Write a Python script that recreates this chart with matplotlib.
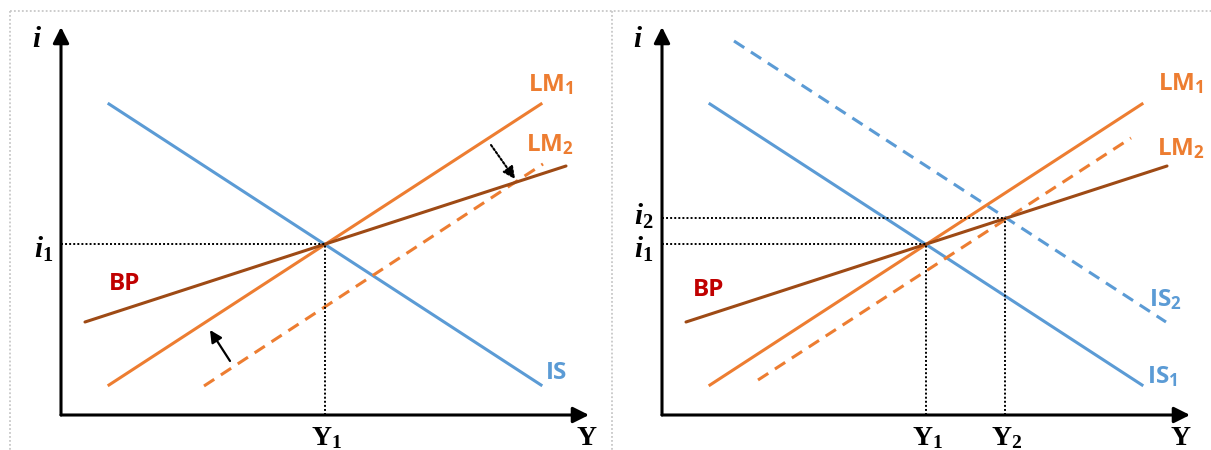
import matplotlib
matplotlib.use("Agg")
import matplotlib.pyplot as plt

# mathtext fonts: rm -> sans labels (LM, IS), bf -> serif Y labels, it -> serif italic i
plt.rcParams['mathtext.fontset'] = 'custom'
plt.rcParams['mathtext.rm'] = 'Open Sans:bold'
plt.rcParams['mathtext.bf'] = 'Liberation Serif:bold'
plt.rcParams['mathtext.it'] = 'Liberation Serif:bold:italic'

BLUE = '#5B9BD5'
ORANGE = '#ED7D31'
BROWN = '#9E4A15'
RED = '#C00000'

# curve end points (same scale for both panels, origin at the axes corner)
is1_x = [4.8, 48.0]
is1_y = [31.1, 3.0]
lm1_x = [4.8, 48.0]
lm1_y = [3.0, 31.1]
bp_x = [2.4, 50.5]
bp_y = [9.3, 24.9]

# left panel: LM shifts right
lm2_left_x = [14.3, 48.2]
lm2_left_y = [2.9, 25.1]
eq1 = (26.35, 17.1)

# right panel: IS and LM both shift
is2_x = [7.2, 50.4]
is2_y = [37.4, 9.3]
lm2_right_x = [9.6, 46.9]
lm2_right_y = [3.5, 27.7]
eq2 = (34.3, 19.7)

LW = 2.2
LBL = 17.5
fig = plt.figure(figsize=(12.11, 4.5), dpi=100)

# dotted table borders behind the panels
bg = fig.add_axes([0, 0, 1, 1])
bg.set_xlim(0, 1211)
bg.set_ylim(450, 0)
bg.axis('off')
border = dict(color='#C8C8C8', lw=1.3, ls=(0, (1, 1.2)))
bg.plot([10, 1211], [11, 11], **border)
bg.plot([10, 10], [11, 450], **border)
bg.plot([612, 612], [11, 450], **border)


def make_axes(x0):
    ax = fig.add_axes([x0 / 1211, 35 / 450, 540 / 1211, 400 / 450])
    ax.set_xlim(0, 54)
    ax.set_ylim(0, 40)
    ax.axis('off')
    arrow = dict(arrowstyle='-|>', lw=2.2, color='black', mutation_scale=24,
                 shrinkA=0, shrinkB=0)
    ax.annotate('', xy=(52.8, 0), xytext=(0, 0), arrowprops=arrow)
    ax.annotate('', xy=(0, 38.8), xytext=(0, 0), arrowprops=arrow)
    ax.text(-2.4, 37.6, r'$\mathit{i}$', fontsize=21, ha='center', va='center')
    return ax


def guides(ax, pt, sub):
    dot = dict(color='black', lw=1.4, ls=(0, (1, 1.1)))
    ax.plot([0, pt[0]], [pt[1], pt[1]], **dot)
    ax.plot([pt[0], pt[0]], [0, pt[1]], **dot)
    ax.text(pt[0] + 0.2, -2.2, r'$\mathbf{Y_%s}$' % sub, fontsize=20,
            ha='center', va='center')


# ---- left panel ----
ax1 = make_axes(61)
ax1.plot(is1_x, is1_y, color=BLUE, lw=LW)
ax1.plot(lm1_x, lm1_y, color=ORANGE, lw=LW)
ax1.plot(lm2_left_x, lm2_left_y, color=ORANGE, lw=LW, ls=(0, (4, 2.6)))
ax1.plot(bp_x, bp_y, color=BROWN, lw=LW, solid_capstyle='round')
guides(ax1, eq1, '1')
ax1.text(-1.7, 16.6, r'$\mathit{i}_\mathbf{1}$', fontsize=21, ha='center', va='center')
ax1.text(52.6, -2.2, r'$\mathbf{Y}$', fontsize=20, ha='center', va='center')
ax1.text(49.0, 33.0, r'$\mathrm{LM_1}$', fontsize=LBL, color=ORANGE, ha='center', va='center')
ax1.text(48.9, 27.0, r'$\mathrm{LM_2}$', fontsize=LBL, color=ORANGE, ha='center', va='center')
ax1.text(6.4, 13.1, 'BP', fontsize=LBL, color=RED, fontfamily='Open Sans', fontweight='bold',
         ha='center', va='center')
ax1.text(49.6, 4.2, 'IS', fontsize=LBL, color=BLUE, fontfamily='Open Sans', fontweight='bold',
         ha='center', va='center')
ax1.annotate('', xy=(45.4, 23.6), xytext=(43.0, 27.0),
             arrowprops=dict(arrowstyle='-|>', lw=1.5, ls=(0, (1, 1)), color='black',
                             mutation_scale=18, shrinkA=0, shrinkB=0))
ax1.annotate('', xy=(14.9, 8.5), xytext=(16.9, 5.4),
             arrowprops=dict(arrowstyle='-|>', lw=1.6, color='black',
                             mutation_scale=18, shrinkA=0, shrinkB=0))

# ---- right panel ----
ax2 = make_axes(662)
ax2.plot(is1_x, is1_y, color=BLUE, lw=LW)
ax2.plot(is2_x, is2_y, color=BLUE, lw=LW, ls=(0, (4, 2.6)))
ax2.plot(lm1_x, lm1_y, color=ORANGE, lw=LW)
ax2.plot(lm2_right_x, lm2_right_y, color=ORANGE, lw=LW, ls=(0, (4, 2.6)))
ax2.plot(bp_x, bp_y, color=BROWN, lw=LW, solid_capstyle='round')
guides(ax2, eq1, '1')
guides(ax2, eq2, '2')
ax2.text(-1.8, 19.9, r'$\mathit{i}_\mathbf{2}$', fontsize=21, ha='center', va='center')
ax2.text(-1.8, 16.6, r'$\mathit{i}_\mathbf{1}$', fontsize=21, ha='center', va='center')
ax2.text(51.9, -2.2, r'$\mathbf{Y}$', fontsize=20, ha='center', va='center')
ax2.text(51.9, 33.1, r'$\mathrm{LM_1}$', fontsize=LBL, color=ORANGE, ha='center', va='center')
ax2.text(51.9, 26.6, r'$\mathrm{LM_2}$', fontsize=LBL, color=ORANGE, ha='center', va='center')
ax2.text(4.7, 12.5, 'BP', fontsize=LBL, color=RED, fontfamily='Open Sans', fontweight='bold',
         ha='center', va='center')
ax2.text(50.3, 11.5, r'$\mathrm{IS_2}$', fontsize=LBL, color=BLUE, ha='center', va='center')
ax2.text(50.0, 3.8, r'$\mathrm{IS_1}$', fontsize=LBL, color=BLUE, ha='center', va='center')

fig.savefig('out.png', dpi=100)
